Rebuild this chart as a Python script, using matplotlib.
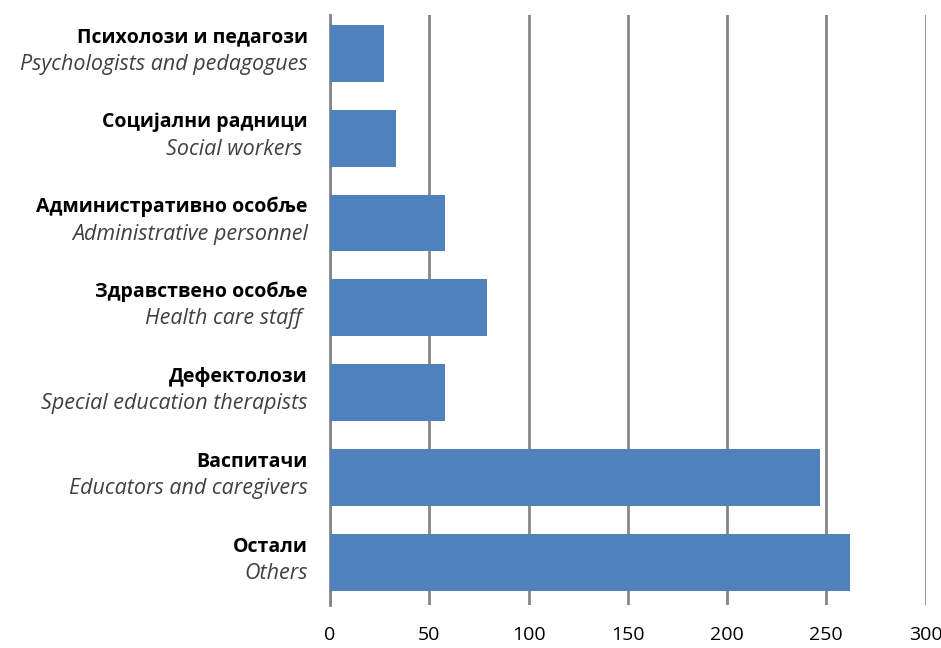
import matplotlib.pyplot as plt
import matplotlib.transforms as mtransforms

labels_sr = ['Психолози и педагози', 'Социјални радници', 'Административно особље',
             'Здравствено особље', 'Дефектолози', 'Васпитачи', 'Остали']
labels_en = ['Psychologists and pedagogues', 'Social workers ', 'Administrative personnel',
             'Health care staff ', 'Special education therapists', 'Educators and caregivers', 'Others']
values = [27, 33, 58, 79, 58, 247, 262]
xticks = [0, 50, 100, 150, 200, 250, 300]

plt.rcParams['font.family'] = ['Open Sans', 'DejaVu Sans']

fig = plt.figure(figsize=(9.41, 6.48), dpi=100)
ax = fig.add_axes([0.3507, 0.0664, 0.6329, 0.9105])

ypos = list(range(len(values)))
ax.barh(ypos, values, height=0.67, color='#4f81bd', zorder=3)
ax.set_ylim(len(values) - 0.5, -0.45)
ax.set_xlim(0, 300)

ax.set_xticks(xticks)
ax.set_xticklabels([str(t) for t in xticks], fontsize=14)
ax.tick_params(axis='x', length=0, pad=15)
ax.set_yticks([])
ax.grid(axis='x', color='#868686', linewidth=2, zorder=1)
for s in ['top', 'right', 'bottom']:
    ax.spines[s].set_visible(False)
ax.spines['left'].set_color('#868686')
ax.spines['left'].set_linewidth(2)

trans = mtransforms.blended_transform_factory(ax.transAxes, ax.transData)
for y, sr, en in zip(ypos, labels_sr, labels_en):
    ax.annotate(sr, xy=(0, y), xycoords=trans, xytext=(-16, 11.5), textcoords='offset points',
                ha='right', va='center', fontsize=14, fontweight='bold', color='black')
    ax.annotate(en, xy=(0, y), xycoords=trans, xytext=(-16, -8), textcoords='offset points',
                ha='right', va='center', fontsize=15.5, fontstyle='italic', color='#404040')

fig.savefig('out.png', dpi=100)
